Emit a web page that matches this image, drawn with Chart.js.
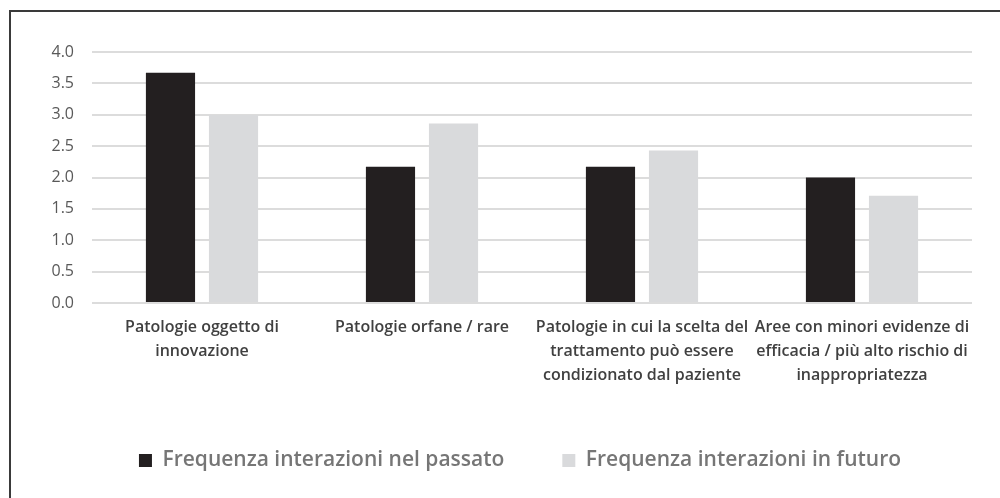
<!DOCTYPE html>
<html>
<head>
<meta charset="utf-8">
<script src="https://cdn.jsdelivr.net/npm/chart.js@4"></script>
<style>
html,body{margin:0;padding:0;background:#fff;}
#wrap{position:relative;width:1000px;height:498px;}
#frame{position:absolute;left:9px;top:10px;right:-2px;bottom:-2px;border-left:2px solid #3a3a3a;border-top:2px solid #3a3a3a;pointer-events:none;}
canvas{position:absolute;left:0;top:0;}
</style>
</head>
<body>
<div id="wrap">
<canvas id="c" width="1000" height="498"></canvas>
<div id="frame"></div>
</div>
<script>
const categories = [
  ["Patologie oggetto di", "innovazione"],
  ["Patologie orfane / rare"],
  ["Patologie in cui la scelta del", "trattamento può essere", "condizionato dal paziente"],
  ["Aree con minori evidenze di", "efficacia / più alto rischio di", "inappropriatezza"]
];
const seriesNames = ["Frequenza interazioni nel passato", "Frequenza interazioni in futuro"];
const pastValues = [3.67, 2.17, 2.17, 2.0];
const futureValues = [3.0, 2.86, 2.43, 1.71];
const yTicks = [0, 0.5, 1.0, 1.5, 2.0, 2.5, 3.0, 3.5, 4.0];

const shiftLegend = {
  id: 'shiftLegend',
  afterLayout(chart) {
    if (chart.legend) { chart.legend.left += 29; chart.legend.right += 29; }
  }
};

new Chart(document.getElementById('c'), {
  type: 'bar',
  data: {
    labels: categories,
    datasets: [
      {label: seriesNames[0], data: pastValues, backgroundColor: '#231f20', borderWidth: 0,
       categoryPercentage: 0.573, barPercentage: 0.78},
      {label: seriesNames[1], data: futureValues, backgroundColor: '#d9dadc', borderWidth: 0,
       categoryPercentage: 0.573, barPercentage: 0.78}
    ]
  },
  plugins: [shiftLegend],
  options: {
    responsive: false,
    animation: false,
    layout: {padding: {left: 10, right: 28, top: 52, bottom: 17}},
    plugins: {
      tooltip: {enabled: false},
      legend: {
        position: 'bottom',
        labels: {
          boxWidth: 13, boxHeight: 13, padding: 58,
          color: '#767676',
          font: {family: 'Open Sans', size: 21, weight: '600'}
        }
      }
    },
    scales: {
      x: {
        grid: {display: false},
        border: {display: false},
        ticks: {
          color: '#404040', maxRotation: 0, autoSkip: false, padding: 4,
          font: {family: 'Open Sans', size: 16, weight: '600', lineHeight: 1.5}
        },
        afterFit: (s) => { s.height = 89; }
      },
      y: {
        min: 0, max: 4,
        afterBuildTicks: (s) => { s.ticks = yTicks.map(v => ({value: v})); },
        grid: {color: '#dcdcdc', lineWidth: 2, drawTicks: false},
        border: {display: false},
        ticks: {
          color: '#595959', padding: 18,
          font: {family: 'Open Sans', size: 16},
          callback: (v) => Number(v).toFixed(1)
        },
        afterFit: (s) => { s.width = 82; }
      }
    }
  }
});
</script>
</body>
</html>
